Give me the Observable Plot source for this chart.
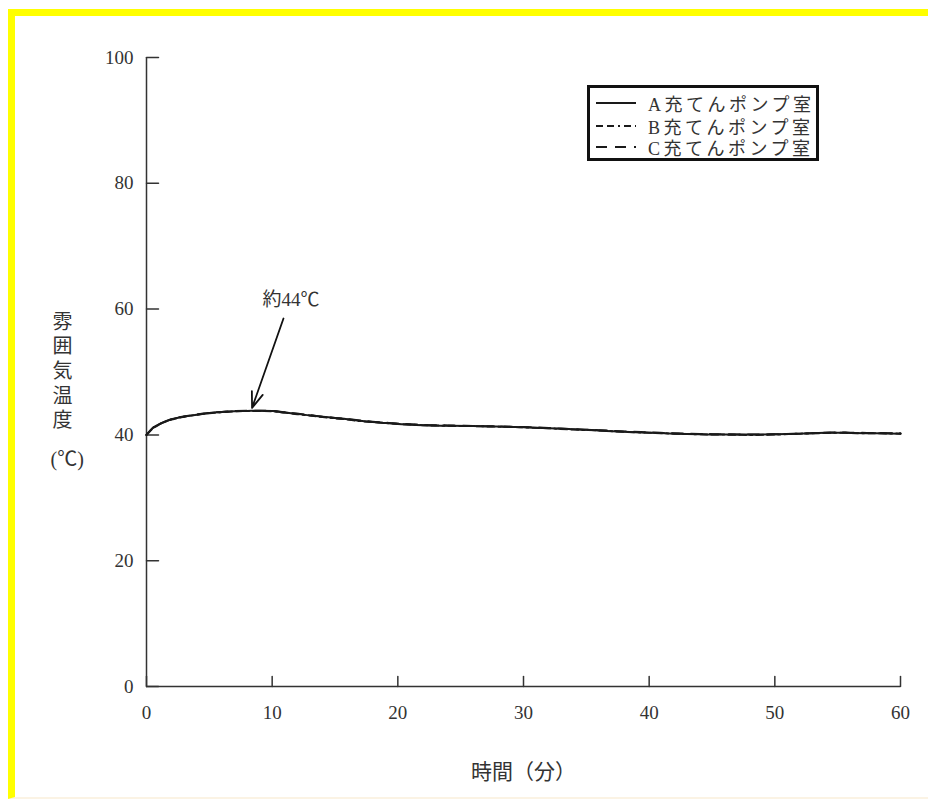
<!DOCTYPE html>
<html>
<head>
<meta charset="utf-8">
<script src="https://cdn.jsdelivr.net/npm/d3@7"></script>
<script src="https://cdn.jsdelivr.net/npm/@observablehq/plot@0.6"></script>
<style>
  html, body { margin: 0; padding: 0; background: #fff; }
  #wrap { position: relative; width: 928px; height: 806px; overflow: hidden; background: #fff; }
  #frame { position: absolute; left: 8px; top: 9px; width: 920px; height: 790px;
           border-top: 7px solid #ffff00; border-left: 7px solid #ffff00;
           border-bottom: 2px solid #fbf3e4; box-sizing: border-box; }
  #chart { position: absolute; left: 0; top: 0; }
  #legend { position: absolute; left: 587px; top: 85px; width: 232px; height: 76px;
            border: 3px solid #111; box-sizing: border-box; background: #fff;
            font-family: "Liberation Serif", "Noto Sans CJK JP", serif; font-size: 18px; color: #333; }
  .row { position: absolute; left: 0; height: 22px; display: flex; align-items: center; }
  .row svg { margin-left: 6px; }
  .row span { margin-left: 12px; letter-spacing: 3.5px; }
</style>
</head>
<body>
<div id="wrap">
  <div id="frame"></div>
  <div id="chart"></div>
  <div id="legend"></div>
</div>
<script>
// ---- data ----
const time  = [0, 0.5, 1, 1.5, 2, 3, 4, 5, 6, 7, 8, 9, 10, 11, 12, 13, 14, 15, 16, 17, 18, 19, 20, 22, 24, 26, 28, 30, 32, 34, 36, 38, 40, 42, 44, 46, 48, 50, 52, 54, 55, 56, 58, 60];
const tempA = [40.0, 41.1, 41.7, 42.1, 42.5, 42.9, 43.2, 43.5, 43.65, 43.75, 43.8, 43.85, 43.8, 43.55, 43.35, 43.1, 42.9, 42.7, 42.5, 42.25, 42.05, 41.9, 41.75, 41.55, 41.45, 41.4, 41.35, 41.2, 41.05, 40.9, 40.7, 40.5, 40.35, 40.2, 40.1, 40.05, 40.05, 40.1, 40.2, 40.35, 40.35, 40.3, 40.25, 40.2];
const tempB = [40.0, 41.0, 41.65, 42.1, 42.45, 42.9, 43.2, 43.45, 43.6, 43.75, 43.8, 43.8, 43.75, 43.55, 43.3, 43.1, 42.85, 42.65, 42.45, 42.2, 42.05, 41.9, 41.75, 41.55, 41.45, 41.4, 41.3, 41.2, 41.05, 40.85, 40.7, 40.5, 40.35, 40.2, 40.1, 40.05, 40.0, 40.05, 40.2, 40.3, 40.35, 40.3, 40.25, 40.2];
const tempC = [40.0, 41.1, 41.7, 42.15, 42.5, 42.95, 43.25, 43.5, 43.65, 43.8, 43.85, 43.85, 43.8, 43.6, 43.35, 43.15, 42.9, 42.7, 42.5, 42.3, 42.1, 41.95, 41.8, 41.6, 41.5, 41.4, 41.35, 41.25, 41.1, 40.9, 40.75, 40.55, 40.4, 40.25, 40.15, 40.1, 40.05, 40.1, 40.2, 40.35, 40.4, 40.35, 40.3, 40.25];
const seriesNames = ["A充てんポンプ室", "B充てんポンプ室", "C充てんポンプ室"];
const xTicks = [0, 10, 20, 30, 40, 50, 60];
const yTicks = [0, 20, 40, 60, 80, 100];
const xTitle = "時間（分）";
const yTitleChars = ["雰", "囲", "気", "温", "度"];
const yTitleUnit = "(℃)";
const note = {label: "約44℃", textX: 11.5, textY: 61.4, fromX: 10.9, fromY: 58.5, toX: 8.4, toY: 44.3};

// ---- build ----
const allSeries = [tempA, tempB, tempC];
const dashes = [null, "7,4,7,4,2,4", "11,8"];
const rows = [];
allSeries.forEach((vals, i) => vals.forEach((v, j) => rows.push({t: time[j], v, s: seriesNames[i]})));

const serif = "'Liberation Serif', 'Noto Sans CJK JP', serif";
const ink = "#333";

// straight tick shape for vector marks
const tickShape = {draw(context, l) { context.moveTo(0, 0); context.lineTo(0, -l); }};

const marks = [
  Plot.ruleX([0], {stroke: ink, strokeWidth: 1.5}),
  Plot.ruleY([0], {stroke: ink, strokeWidth: 1.5}),
  // tick marks pointing inward (into the plot area)
  Plot.vectorX(xTicks, {frameAnchor: "bottom", length: 10, rotate: 0, anchor: "start", shape: tickShape, stroke: ink, strokeWidth: 1.5}),
  Plot.vectorY(yTicks, {frameAnchor: "left", length: 12, rotate: 90, anchor: "start", shape: tickShape, stroke: ink, strokeWidth: 1.5}),
  // tick labels
  Plot.axisX(xTicks, {tickSize: 0, tickPadding: 19, fontSize: 19, fontFamily: serif, fill: ink, label: null}),
  Plot.axisY(yTicks, {tickSize: 0, tickPadding: 13, fontSize: 19, fontFamily: serif, fill: ink, label: null}),
  ...seriesNames.map((name, i) => Plot.line(rows.filter(d => d.s === name), {
    x: "t", y: "v", curve: "monotone-x", stroke: "#1a1a1a", strokeWidth: 2,
    strokeDasharray: dashes[i]
  })),
  Plot.text([xTitle], {frameAnchor: "bottom", dy: 92, fontSize: 21, fontFamily: serif, fill: ink}),
  Plot.text([yTitleChars.join("\n")], {frameAnchor: "left", dx: -94, dy: -2, fontSize: 20, lineHeight: 1.235, fontFamily: serif, fill: ink}),
  Plot.text([yTitleUnit], {frameAnchor: "left", dx: -96, dy: 88, fontSize: 20, fontFamily: serif, fill: ink}),
  Plot.text([note], {x: "textX", y: "textY", text: "label", fontSize: 19, fontFamily: serif, fill: ink}),
  Plot.arrow([note], {x1: "fromX", y1: "fromY", x2: "toX", y2: "toY", stroke: "#111", strokeWidth: 1.8, headLength: 14, headAngle: 40})
];

const chart = Plot.plot({
  width: 928,
  height: 806,
  marginLeft: 146,
  marginRight: 28,
  marginTop: 57,
  marginBottom: 120,
  style: {background: "transparent", fontFamily: serif},
  x: {domain: [0, 60], axis: null},
  y: {domain: [0, 100], axis: null},
  marks
});
document.getElementById("chart").appendChild(chart);

// legend
const legend = document.getElementById("legend");
const rowTops = [4, 27, 48];
seriesNames.forEach((name, i) => {
  const r = document.createElement("div");
  r.className = "row";
  r.style.top = rowTops[i] + "px";
  r.innerHTML = `<svg width="40" height="6"><line x1="0" y1="3" x2="40" y2="3" stroke="#1a1a1a" stroke-width="2" ${dashes[i] ? `stroke-dasharray="${dashes[i]}"` : ""}/></svg><span>${name}</span>`;
  legend.appendChild(r);
});
</script>
</body>
</html>
